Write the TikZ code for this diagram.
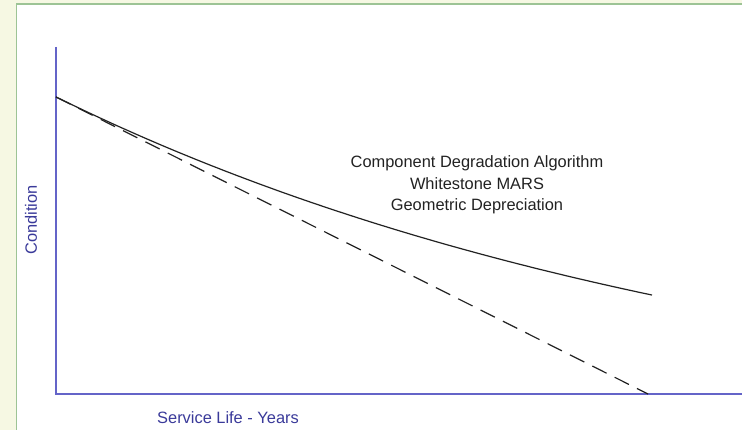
\documentclass[tikz,border=0pt]{standalone}
\usepackage{fontspec}
\setmainfont{Liberation Sans}
\definecolor{bgcream}{HTML}{F6F8E3}
\definecolor{framegreen}{HTML}{9DC495}
\definecolor{axisblue}{HTML}{6464C8}
\definecolor{labelblue}{HTML}{3A3A9A}
\definecolor{curveblack}{HTML}{222222}
\begin{document}
\begin{tikzpicture}[x=1pt,y=-1pt,
  axisline/.style={draw=axisblue, line width=1.6pt},
  curveline/.style={draw=curveblack, line width=1.2pt},
  dashline/.style={draw=curveblack, line width=1.2pt, dash pattern=on 16pt off 9pt},
  axislabel/.style={text=labelblue, font=\fontsize{16.4}{20}\selectfont, inner sep=0pt},
  curvelabel/.style={text=curveblack, font=\fontsize{16.4}{21.5}\selectfont, align=center, inner sep=0pt}]
\useasboundingbox (0,0) rectangle (742,430);
\fill[bgcream] (0,0) rectangle (742,430);
\fill[white] (16.6,4) rectangle (745,433);
\draw[framegreen, line width=1.6pt] (16.6,440) |- (750,4);
% axes
\coordinate (ytop) at (56,47);
\coordinate (origin) at (56,394);
\coordinate (xend) at (743,394);
\draw[axisline] (ytop) -- (origin) -- (xend);
% dashed straight-line depreciation
\coordinate (start) at (56,97);
\coordinate (dend) at (648,394);
\draw[dashline] (start) -- (dend);
% solid degradation curve
\draw[curveline] plot[domain=0:596, samples=120, smooth] ({56+\x},{394+50-347*exp(-0.001418*\x)});
% labels
\node[curvelabel] (legend) at (477,185) {Component Degradation Algorithm\\Whitestone MARS\\Geometric Depreciation};
\node[axislabel, rotate=90] (ylab) at (31,220) {Condition};
\node[axislabel] (xlab) at (228,418) {Service Life - Years};
\end{tikzpicture}
\end{document}
